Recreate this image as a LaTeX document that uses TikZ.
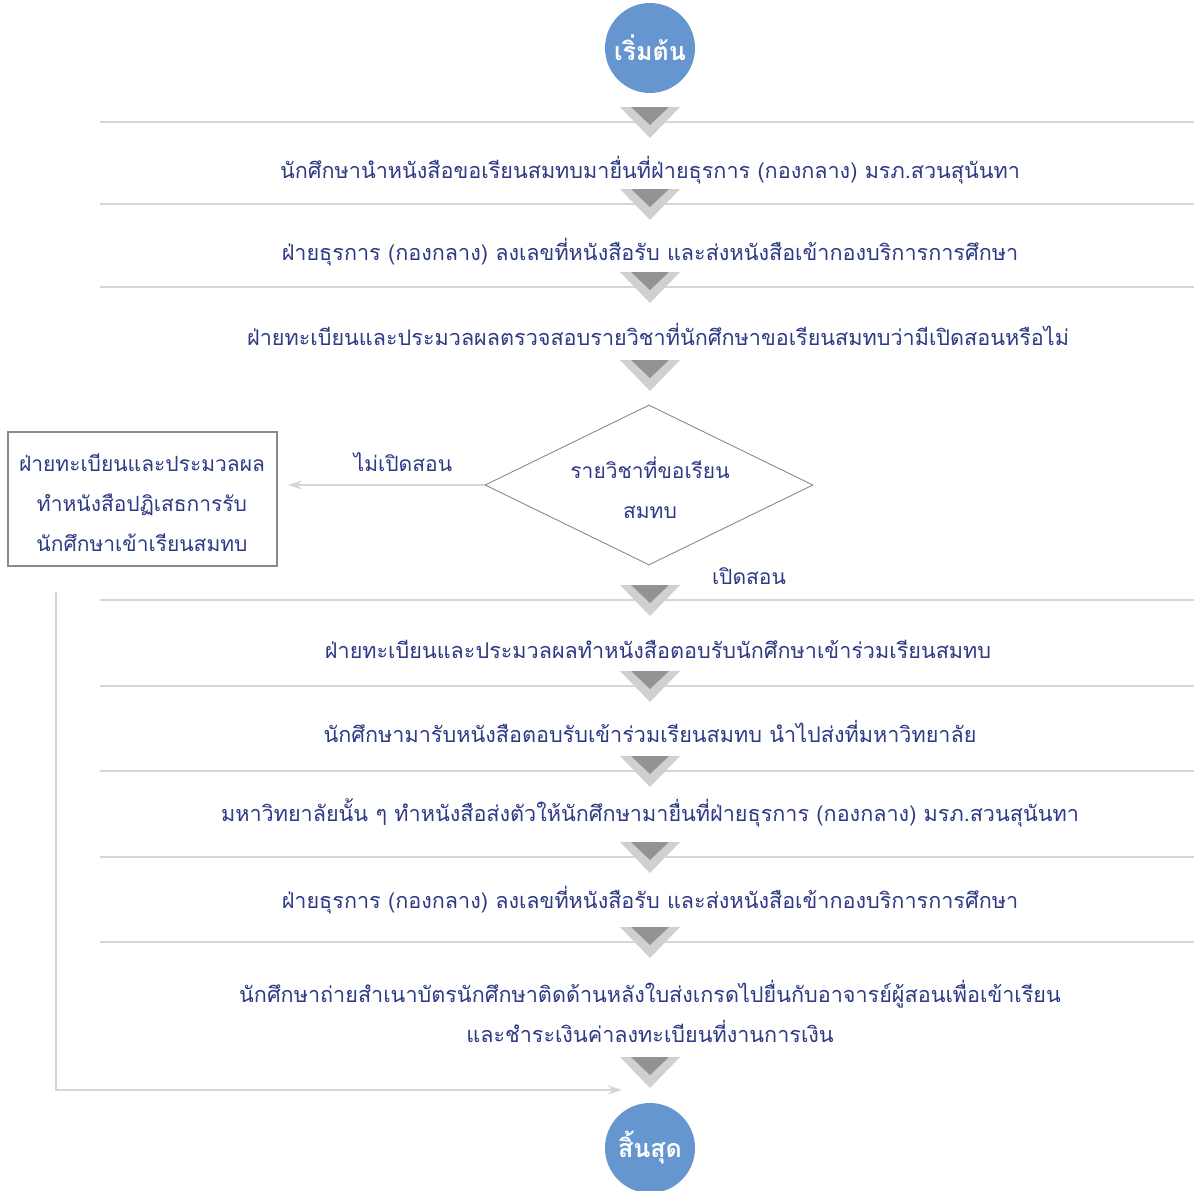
\documentclass[tikz,border=0pt]{standalone}
\usepackage{fontspec}
\setmainfont[Script=Thai]{Loma}
\usetikzlibrary{arrows.meta,shapes.geometric}

\definecolor{textblue}{HTML}{2E3A86}
\definecolor{capblue}{HTML}{6596D0}
\definecolor{rulegray}{HTML}{D6D6D6}
\definecolor{marklight}{HTML}{D0D0D2}
\definecolor{markdark}{HTML}{939395}
\definecolor{framegray}{HTML}{8A8A8A}

% arrow marker at the top y of a step
\newcommand{\flowmark}[1]{%
  \fill[marklight] (620,#1) -- (680,#1) -- (650,#1+31) -- cycle;
  \fill[markdark] (631,#1) -- (669,#1) -- (650,#1+18) -- cycle;}

\begin{document}
\begin{tikzpicture}[x=1pt,y=-1pt,
    steptext/.style={text=textblue,font=\fontsize{21.6}{40}\selectfont,align=center},
    sidetext/.style={text=textblue,font=\fontsize{21}{40}\selectfont,align=center},
    capnode/.style={circle,fill=capblue,minimum size=90pt,inner sep=0pt,
      text=white,font=\fontsize{25}{28}\selectfont\bfseries},
    checknode/.style={diamond,draw=framegray,line width=0.9pt,aspect=2.05,
      minimum width=328pt,minimum height=160pt,inner sep=0pt},
    rejectbox/.style={draw=framegray,line width=2pt,minimum width=269pt,
      minimum height=134pt,inner sep=0pt},
    flowline/.style={draw=rulegray,line width=2pt},
    flowarrow/.style={flowline,-{Stealth[length=14pt,width=9pt]}}]
  \useasboundingbox (0,0) rectangle (1194,1191);

  % separators
  \draw[flowline] (100,122) -- (1194,122);
  \draw[flowline] (100,204) -- (1194,204);
  \draw[flowline] (100,287) -- (1194,287);
  \draw[flowline] (100,600) -- (1194,600);
  \draw[flowline] (100,686) -- (1194,686);
  \draw[flowline] (100,771) -- (1194,771);
  \draw[flowline] (100,857) -- (1194,857);
  \draw[flowline] (100,942) -- (1194,942);

  \flowmark{107}
  \flowmark{189}
  \flowmark{272}
  \flowmark{360}
  \flowmark{585}
  \flowmark{671}
  \flowmark{756}
  \flowmark{842}
  \flowmark{927}
  \flowmark{1057}

  \node[capnode] (start) at (650,48) {เริ่มต้น};
  \node[steptext] (s1) at (650,170) {นักศึกษานำหนังสือขอเรียนสมทบมายื่นที่ฝ่ายธุรการ (กองกลาง) มรภ.สวนสุนันทา};
  \node[steptext] (s2) at (650,252) {ฝ่ายธุรการ (กองกลาง) ลงเลขที่หนังสือรับ และส่งหนังสือเข้ากองบริการการศึกษา};
  \node[steptext] (s3) at (658,334) {ฝ่ายทะเบียนและประมวลผลตรวจสอบรายวิชาที่นักศึกษาขอเรียนสมทบว่ามีเปิดสอนหรือไม่};

  \node[checknode] (check) at (649,485) {};
  \node[sidetext] (checktext) at (650,488) {รายวิชาที่ขอเรียน\\สมทบ};
  \node[rejectbox] (reject) at (142,499) {};
  \node[sidetext] (rejecttext) at (142,503) {ฝ่ายทะเบียนและประมวลผล\\ทำหนังสือปฏิเสธการรับ\\นักศึกษาเข้าเรียนสมทบ};
  \coordinate (rejectin) at (288,485);
  \draw[flowarrow] (check.west) -- (rejectin);
  \node[sidetext] (nolabel) at (403,462) {ไม่เปิดสอน};
  \node[sidetext] (yeslabel) at (749,576) {เปิดสอน};

  \node[steptext] (s4) at (658,649) {ฝ่ายทะเบียนและประมวลผลทำหนังสือตอบรับนักศึกษาเข้าร่วมเรียนสมทบ};
  \node[steptext] (s5) at (650,731) {นักศึกษามารับหนังสือตอบรับเข้าร่วมเรียนสมทบ นำไปส่งที่มหาวิทยาลัย};
  \node[steptext] (s6) at (650,813) {มหาวิทยาลัยนั้น ๆ ทำหนังสือส่งตัวให้นักศึกษามายื่นที่ฝ่ายธุรการ (กองกลาง) มรภ.สวนสุนันทา};
  \node[steptext] (s7) at (650,900) {ฝ่ายธุรการ (กองกลาง) ลงเลขที่หนังสือรับ และส่งหนังสือเข้ากองบริการการศึกษา};
  \node[steptext] (s8) at (650,1011) {นักศึกษาถ่ายสำเนาบัตรนักศึกษาติดด้านหลังใบส่งเกรดไปยื่นกับอาจารย์ผู้สอนเพื่อเข้าเรียน\\และชำระเงินค่าลงทะเบียนที่งานการเงิน};

  \coordinate (rejectout) at (56,592);
  \coordinate (mergein) at (622,1090);
  \draw[flowarrow] (rejectout) |- (mergein);

  \node[capnode] (stop) at (650,1148) {สิ้นสุด};
\end{tikzpicture}
\end{document}
